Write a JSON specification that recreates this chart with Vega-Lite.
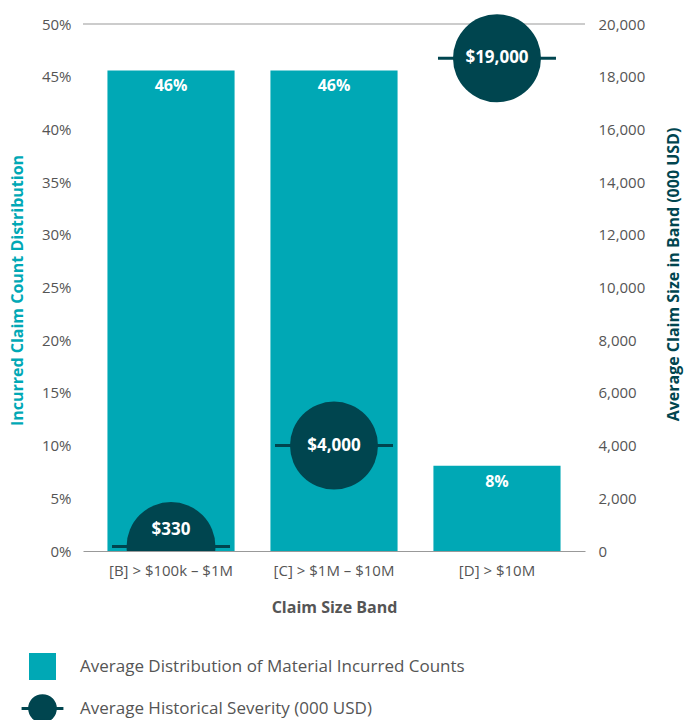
{
  "$schema": "https://vega.github.io/schema/vega-lite/v6.json",
  "autosize": "pad",
  "padding": {"left": 9, "top": 14, "right": 12, "bottom": 0},
  "config": {
    "font": "Open Sans",
    "view": {"stroke": null},
    "axis": {"labelColor": "#555555", "labelFontSize": 15, "labelFont": "Open Sans", "grid": false, "ticks": false, "domain": false, "titleFont": "Open Sans", "titleFontWeight": "bold", "titleFontSize": 16}
  },
  "hconcat": [
    {
      "width": 502,
      "height": 527,
      "data": {
        "values": [
          {"band": "[B] > $100k – $1M", "pct": 0.456, "severity": 170, "severityLabel": "$330"},
          {"band": "[C] > $1M – $10M", "pct": 0.456, "severity": 4000, "severityLabel": "$4,000"},
          {"band": "[D] > $10M", "pct": 0.081, "severity": 18700, "severityLabel": "$19,000"}
        ]
      },
      "encoding": {
        "x": {
          "field": "band", "type": "nominal", "sort": null,
          "scale": {"paddingInner": 0.22, "paddingOuter": 0.15},
          "axis": {"labelAngle": 0, "domain": true, "domainColor": "#999999", "labelPadding": 12, "title": "Claim Size Band", "titleColor": "#555555", "titleY": 56, "titleBaseline": "middle"}
        }
      },
      "layer": [
        {
          "encoding": {
            "y": {
              "field": "pct", "type": "quantitative",
              "scale": {"domain": [0, 0.5]},
              "axis": {"values": [0, 0.05, 0.1, 0.15, 0.2, 0.25, 0.3, 0.35, 0.4, 0.45, 0.5], "format": ".0%", "labelPadding": 12, "title": "Incurred Claim Count Distribution", "titleColor": "#00A8B5", "titleX": -66, "titleY": 266, "titleAngle": 270, "titleAlign": "center", "titleBaseline": "middle"}
            }
          },
          "layer": [
            {
              "mark": {"type": "bar"},
              "encoding": {
                "color": {"datum": "Average Distribution of Material Incurred Counts", "type": "nominal",
                  "scale": {"domain": ["Average Distribution of Material Incurred Counts", "Average Historical Severity (000 USD)"], "range": ["#00A8B5", "#00454F"]},
                  "legend": {
                    "orient": "none", "legendX": -49, "legendY": 634, "direction": "vertical", "title": null,
                    "symbolSize": 729, "labelFontSize": 17, "labelColor": "#555555", "labelOffset": 29, "rowPadding": 9, "labelLimit": 0,
                    "symbolType": "square",
                    "encode": {
                      "symbols": {
                        "update": {
                          "shape": {"signal": "datum.value === 'Average Distribution of Material Incurred Counts' ? 'square' : 'M-1.55,0L1.55,0M0.95,0A0.95,0.95,0,1,1,-0.95,0A0.95,0.95,0,1,1,0.95,0Z'"},
                          "fill": {"signal": "datum.value === 'Average Distribution of Material Incurred Counts' ? '#00A8B5' : '#00454F'"},
                          "stroke": {"signal": "datum.value === 'Average Distribution of Material Incurred Counts' ? '#00A8B5' : '#00454F'"},
                          "strokeWidth": {"signal": "datum.value === 'Average Distribution of Material Incurred Counts' ? 0 : 3"},
                          "opacity": {"value": 1}
                        }
                      }
                    }
                  }
                }
              }
            },
            {
              "mark": {"type": "text", "baseline": "top", "dy": 8, "color": "white", "fontWeight": "bold", "fontSize": 16},
              "encoding": {"text": {"field": "pct", "type": "quantitative", "format": ".0%"}}
            },
            {
              "data": {"values": [{"top": 0.5}]},
              "mark": {"type": "rule", "color": "#999999", "strokeWidth": 1},
              "encoding": {"y": {"field": "top", "type": "quantitative"}, "x": {"value": 0}, "x2": {"value": 502}}
            }
          ]
        },
        {
          "encoding": {
            "y": {
              "field": "severity", "type": "quantitative",
              "scale": {"domain": [0, 20000]},
              "axis": {"orient": "right", "values": [0, 2000, 4000, 6000, 8000, 10000, 12000, 14000, 16000, 18000, 20000], "format": ",.0f", "labelPadding": 13, "title": "Average Claim Size in Band (000 USD)", "titleColor": "#00454F", "titleX": 88, "titleY": 250, "titleAngle": 270, "titleAlign": "center", "titleBaseline": "middle"}
            }
          },
          "layer": [
            {
              "transform": [{"filter": "datum.severity < 1000"}],
              "mark": {"type": "point", "filled": true, "opacity": 1, "size": 7900, "clip": true},
              "encoding": {"color": {"datum": "Average Historical Severity (000 USD)", "type": "nominal"}}
            },
            {
              "mark": {"type": "tick", "color": "#00454F", "size": 118, "thickness": 3, "opacity": 1}
            },
            {
              "transform": [{"filter": "datum.severity >= 1000"}],
              "mark": {"type": "point", "filled": true, "opacity": 1, "size": 7744},
              "encoding": {"color": {"datum": "Average Historical Severity (000 USD)", "type": "nominal"}}
            },
            {
              "transform": [{"filter": "datum.severity >= 1000"}],
              "mark": {"type": "text", "color": "white", "fontWeight": "bold", "fontSize": 17, "baseline": "middle"},
              "encoding": {"text": {"field": "severityLabel", "type": "nominal"}}
            },
            {
              "transform": [{"filter": "datum.severity < 1000"}],
              "mark": {"type": "text", "color": "white", "fontWeight": "bold", "fontSize": 17, "baseline": "middle", "dy": -17},
              "encoding": {"text": {"field": "severityLabel", "type": "nominal"}}
            }
          ]
        }
      ],
      "resolve": {"scale": {"y": "independent"}}
    }
  ]
}
